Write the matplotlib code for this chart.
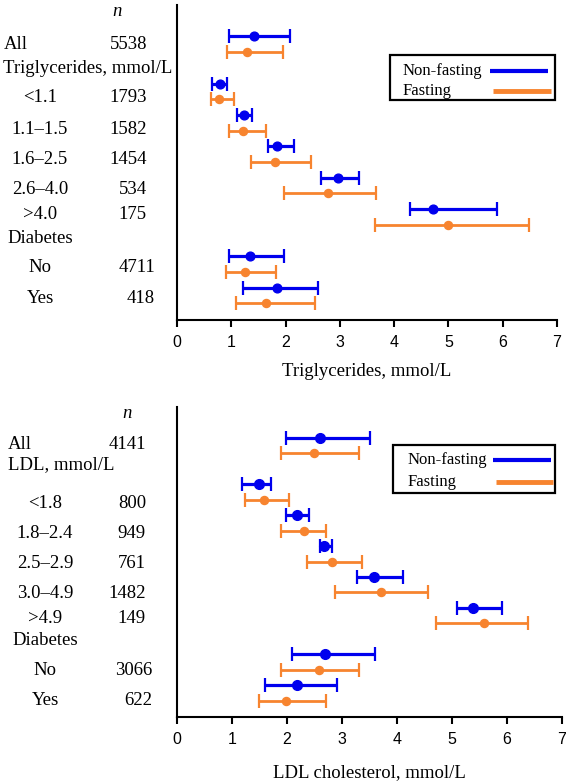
import numpy as np
import matplotlib.pyplot as plt
from matplotlib.lines import Line2D
from matplotlib.patches import Rectangle
from matplotlib.transforms import blended_transform_factory

# --- data: rows (label, n), mean and 95% CI limits for non-fasting / fasting ---
tg_labels = ["All", "<1.1", "1.1\u20131.5", "1.6\u20132.5", "2.6\u20134.0", ">4.0", "No", "Yes"]
tg_n = ["5538", "1793", "1582", "1454", "534", "175", "4711", "418"]
tg_nf_mean = [1.41, 0.79, 1.24, 1.85, 2.97, 4.72, 1.34, 1.85]
tg_nf_lo = [0.96, 0.65, 1.11, 1.67, 2.66, 4.29, 0.95, 1.22]
tg_nf_hi = [2.08, 0.92, 1.38, 2.16, 3.35, 5.89, 1.97, 2.60]
tg_f_mean = [1.29, 0.77, 1.22, 1.81, 2.79, 5.00, 1.25, 1.64]
tg_f_lo = [0.92, 0.62, 0.96, 1.37, 1.97, 3.64, 0.90, 1.09]
tg_f_hi = [1.96, 1.05, 1.64, 2.47, 3.67, 6.48, 1.82, 2.55]

ldl_labels = ["All", "<1.8", "1.8\u20132.4", "2.5\u20132.9", "3.0\u20134.9", ">4.9", "No", "Yes"]
ldl_n = ["4141", "800", "949", "761", "1482", "149", "3066", "622"]
ldl_nf_mean = [2.60, 1.49, 2.19, 2.68, 3.59, 5.38, 2.69, 2.19]
ldl_nf_lo = [1.99, 1.19, 1.99, 2.60, 3.28, 5.09, 2.09, 1.60]
ldl_nf_hi = [3.51, 1.70, 2.40, 2.81, 4.10, 5.90, 3.60, 2.90]
ldl_f_mean = [2.49, 1.58, 2.30, 2.81, 3.70, 5.59, 2.59, 1.99]
ldl_f_lo = [1.89, 1.23, 1.89, 2.37, 2.87, 4.71, 1.89, 1.49]
ldl_f_hi = [3.31, 2.03, 2.70, 3.36, 4.56, 6.38, 3.31, 2.70]

legend_labels = ['Non-fasting', 'Fasting']

# --- layout ---
row_pos = np.array([0, 1.5, 2.5, 3.5, 4.5, 5.5, 7, 8])
blue = '#0000ee'
orange = '#f7842f'
serif = 'Liberation Serif'
sans = 'Liberation Sans'

fig = plt.figure(figsize=(5.66, 7.82), dpi=100)
W, H = 566, 782


def fx(px):
    return px / W


def fy(py):
    return 1 - py / H


def box_legend(box, text_x, rows):
    # box: (left, top, right, bottom) in pixels; rows: (y, line x0, line x1) per entry
    l, t, r, b = box
    fig.add_artist(Rectangle((fx(l), fy(b)), fx(r) - fx(l), fy(t) - fy(b),
                             transform=fig.transFigure, fill=False,
                             edgecolor='black', lw=1.6))
    for (y, x0, x1), lab, col, lw in zip(rows, legend_labels, [blue, orange], [3, 3.5]):
        fig.text(fx(text_x), fy(y), lab, ha='left', va='center',
                 fontsize=12, fontfamily=serif)
        fig.add_artist(Line2D([fx(x0), fx(x1)], [fy(y), fy(y)],
                              transform=fig.transFigure, color=col, lw=lw,
                              solid_capstyle='butt'))


def panel(rect, labels, ns, header, xlabel, nf, f, lab_y, hdr_y, lab_x, n_x,
          xlabel_pad, big_blue):
    ax = fig.add_axes(rect)
    ax.set_xlim(0, 7)
    ax.set_ylim(8.78, -1.25)

    (nm, nl, nh), (fm, fl, fh) = nf, f
    nm, nl, nh = map(np.array, (nm, nl, nh))
    fm, fl, fh = map(np.array, (fm, fl, fh))
    ax.errorbar(nm, row_pos - 0.25, xerr=[nm - nl, nh - nm], fmt='o', color=blue,
                ms=7 if big_blue else 6.3, elinewidth=2.3, capsize=5, capthick=1.6, zorder=3)
    ax.errorbar(fm, row_pos + 0.25, xerr=[fm - fl, fh - fm], fmt='o', color=orange,
                ms=5.8, elinewidth=2.0, capsize=5, capthick=1.6, zorder=3)

    for s in ['top', 'right']:
        ax.spines[s].set_visible(False)
    for s in ['left', 'bottom']:
        ax.spines[s].set_linewidth(1.5)
    ax.set_yticks([])
    ax.set_xticks(range(8))
    ax.tick_params(axis='x', length=5, width=1.5, pad=6, labelsize=11.5)
    for t in ax.get_xticklabels():
        t.set_fontfamily(sans)
    ax.set_xlabel(xlabel, fontsize=13.5, fontfamily=serif, labelpad=xlabel_pad)

    tr = blended_transform_factory(fig.transFigure, ax.transData)
    fs = 13.5
    # column header
    ax.text(n_x[0] / W, hdr_y[0], 'n', transform=tr, ha='center', va='center',
            fontsize=fs, fontfamily=serif, style='italic')
    # section headers
    ax.text(lab_x[1] / W, hdr_y[1], header, transform=tr, ha='left', va='center',
            fontsize=fs, fontfamily=serif)
    ax.text(lab_x[1] / W + 0.007, hdr_y[2], 'Diabetes', transform=tr, ha='left',
            va='center', fontsize=fs, fontfamily=serif)
    for i, (lab, n) in enumerate(zip(labels, ns)):
        if i == 0:
            ax.text(lab_x[0] / W, lab_y[i], lab, transform=tr, ha='left', va='center',
                    fontsize=fs, fontfamily=serif)
        else:
            ax.text(lab_x[2] / W, lab_y[i], lab, transform=tr, ha='center', va='center',
                    fontsize=fs, fontfamily=serif)
        ax.text(n_x[1 + (i >= 6)] / W, lab_y[i], n, transform=tr, ha='right',
                va='center', fontsize=fs, fontfamily=serif)
    return ax


panel([177 / W, 1 - 320 / H, 380 / W, 315 / H], tg_labels, tg_n,
      'Triglycerides, mmol/L', 'Triglycerides, mmol/L',
      (tg_nf_mean, tg_nf_lo, tg_nf_hi), (tg_f_mean, tg_f_lo, tg_f_hi),
      lab_y=[0.0, 1.7, 2.7, 3.66, 4.62, 5.42, 7.12, 8.08],
      hdr_y=[-1.05, 0.78, 6.18], lab_x=[4, 3, 40], n_x=[117, 147, 155],
      xlabel_pad=9, big_blue=False)
box_legend((390, 55, 555, 100), 403, [(71, 490, 548), (91, 493, 551)])

panel([177 / W, 1 - 717 / H, 385 / W, 310 / H], ldl_labels, ldl_n,
      'LDL, mmol/L', 'LDL cholesterol, mmol/L',
      (ldl_nf_mean, ldl_nf_lo, ldl_nf_hi), (ldl_f_mean, ldl_f_lo, ldl_f_hi),
      lab_y=[-0.04, 1.86, 2.83, 3.8, 4.77, 5.6, 7.28, 8.25],
      hdr_y=[-1.05, 0.6, 6.31], lab_x=[8, 8, 45], n_x=[127, 146, 152],
      xlabel_pad=12, big_blue=True)
box_legend((393, 445, 555, 493), 408, [(460, 493, 551), (482, 496, 553)])

plt.savefig('out.png', dpi=100)
